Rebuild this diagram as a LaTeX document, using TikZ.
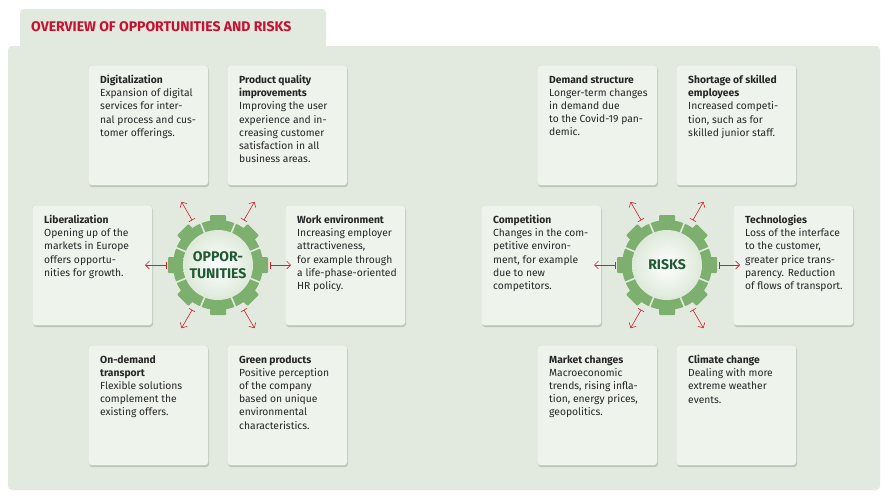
\documentclass[tikz,border=0pt]{standalone}
\usepackage{fontspec}
\setmainfont{Fira Sans}
\usetikzlibrary{arrows.meta,calc}
\definecolor{panel}{HTML}{E2EADF}
\definecolor{boxf}{HTML}{EEF3EC}
\definecolor{boxs}{HTML}{B9C6B5}
\definecolor{gearg}{HTML}{7DB06F}
\definecolor{txtg}{HTML}{1E5A34}
\definecolor{titr}{HTML}{C8102E}
\definecolor{arr}{HTML}{D0202E}
\tikzset{
 x=1pt,y=-1pt,
 card/.style={draw=boxs!60,fill=boxf,rounded corners=3pt,minimum width=120pt,minimum height=120pt,
   inner sep=0pt},
 cardtxt/.style={anchor=north west,align=left,font=\fontsize{10.3}{13.2}\selectfont,text=black!85,inner sep=0pt},
 rad/.style={draw=arr,line width=0.6pt,-{Straight Barb[length=4pt,width=8pt]}},
}
\newcommand{\card}[5]{% name, x, y, title, body
 \fill[boxs,rounded corners=3pt] (#2+1,#3+2) rectangle (#2+121,#3+122);
 \node[card,anchor=north west] (#1) at (#2,#3) {};
 \node[cardtxt] (#1t) at (#2+12,#3+10) {#4\\#5};
}
\newcommand{\B}[1]{\textbf{#1}}
\begin{document}
\begin{tikzpicture}
\useasboundingbox (0,0) rectangle (890,499);
\fill[white] (0,0) rectangle (890,499);
\fill[panel,rounded corners=4pt] (20,9) rectangle (326,60);
\fill[panel,rounded corners=4pt] (8,46) rectangle (880,490);
\node[anchor=west,text=titr,font=\fontsize{14}{16}\selectfont\bfseries,inner sep=0pt] (title) at (31,27) {OVERVIEW OF OPPORTUNITIES AND RISKS};
% left cards
\card{dig}{88}{65}{\B{Digitalization}}{Expansion of digital\\services for inter-\\nal process and cus-\\tomer offerings.}
\card{pq}{227}{65}{\B{Product quality}\\\B{improvements}}{Improving the user\\experience and in-\\creasing customer\\satisfaction in all\\business areas.}
\card{lib}{32}{205}{\B{Liberalization}}{Opening up of the\\markets in Europe\\offers opportu-\\nities for growth.}
\card{work}{285}{205}{\B{Work environment}}{Increasing employer\\attractiveness,\\for example through\\a life-phase-oriented\\HR policy.}
\card{od}{88}{345}{\B{On-demand}\\\B{transport}}{Flexible solutions\\complement the\\existing offers.}
\card{green}{227}{345}{\B{Green products}}{Positive perception\\of the company\\based on unique\\environmental\\characteristics.}
% right cards
\card{dem}{537}{65}{\B{Demand structure}}{Longer-term changes\\in demand due\\to the Covid-19 pan-\\demic.}
\card{short}{676}{65}{\B{Shortage of skilled}\\\B{employees}}{Increased competi-\\tion, such as for\\skilled junior staff.}
\card{comp}{481}{205}{\B{Competition}}{Changes in the com-\\petitive environ-\\ment, for example\\due to new\\competitors.}
\card{tech}{733}{205}{\B{Technologies}}{Loss of the interface\\to the customer,\\greater price trans-\\parency. Reduction\\of flows of transport.}
\card{mkt}{537}{345}{\B{Market changes}}{Macroeconomic\\trends, rising infla-\\tion, energy prices,\\geopolitics.}
\card{clim}{676}{345}{\B{Climate change}}{Dealing with more\\extreme weather\\events.}
% gears
\foreach \gx/\gn in {218/go,667/gr}{
 \begin{scope}[shift={(\gx,265)}]
 \fill[gearg] (0,0) circle (45);
 \foreach \a in {0,45,...,315}{\fill[gearg,rotate=\a,rounded corners=1pt] (-8,-50) rectangle (8,-40);}
 \foreach \a in {22.5,67.5,...,360}{\draw[panel,line width=1.6pt,rotate=\a] (0,-30) -- (0,-56);}
 \shade[inner color=white,outer color=boxf!85!gearg] (0,0) circle (35);
 \end{scope}
 \coordinate (\gn) at (\gx,265);
 \foreach \a in {0,180,60,120,240,300}{
  \draw[rad] ($(\gn)+(\a:52)$) -- ($(\gn)+(\a:73)$);
  \draw[arr,line width=0.6pt] ($(\gn)+(\a:52)+(\a+90:3.5)$) -- ($(\gn)+(\a:52)+(\a-90:3.5)$);
 }
}
\node[text=txtg,font=\fontsize{14}{17}\selectfont\bfseries,align=center] (gol) at (go) {OPPOR-\\TUNITIES};
\node[text=txtg,font=\fontsize{14}{17}\selectfont\bfseries] (grl) at (gr) {RISKS};
\end{tikzpicture}
\end{document}
